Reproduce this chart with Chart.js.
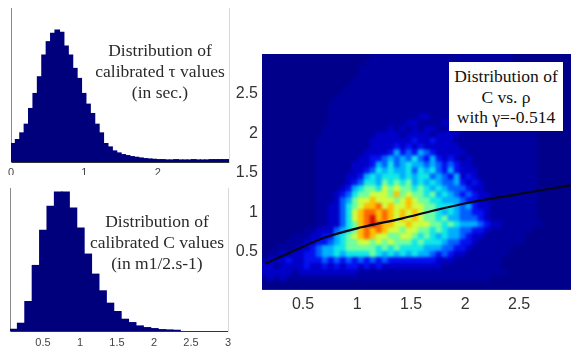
<!DOCTYPE html>
<html>
<head>
<meta charset="utf-8">
<script src="https://cdn.jsdelivr.net/npm/chart.js@4/dist/chart.umd.min.js"></script>
<style>
  html, body { margin: 0; padding: 0; background: #fff; }
  #page { position: relative; width: 571px; height: 351px; overflow: hidden; filter: blur(0.45px); }
  canvas { position: absolute; }
  .note { position: absolute; font-family: "Liberation Serif", serif; font-size: 17.5px; line-height: 21px; color: #2a2a2a; text-align: center; white-space: nowrap; }
  #noteHeat { left: 449px; top: 62px; width: 114px; height: 65px; padding-top: 4px; background: #fff; line-height: 20.5px; font-size: 17.5px; color: #111; }
</style>
</head>
<body>
<div id="page">
  <canvas id="tauChart" style="left:0;top:0"></canvas>
  <canvas id="cChart" style="left:0;top:175px"></canvas>
  <canvas id="heatChart" style="left:230px;top:30px"></canvas>
  <div class="note" style="left:80px;top:40px;width:160px">Distribution of<br>calibrated τ values<br>(in sec.)</div>
  <div class="note" style="left:77px;top:211px;width:160px">Distribution of<br>calibrated C values<br>(in m1/2.s-1)</div>
  <div class="note" id="noteHeat">Distribution of<br>C vs. ρ<br>with γ=-0.514</div>
</div>
<script>
const tauBins = [0.03,0.09,0.15,0.21,0.27,0.33,0.39,0.45,0.51,0.57,0.63,0.69,0.75,0.81,0.87,0.93,0.99,1.05,1.11,1.17,1.23,1.29,1.35,1.41,1.47,1.53,1.59,1.65,1.71,1.77,1.83,1.89,1.95,2.01,2.07,2.13,2.19,2.25,2.31,2.37,2.43,2.49,2.55,2.61,2.67,2.73,2.79,2.85,2.91,2.97];
const tauCounts = [55,67,87,113,160,205,255,320,360,385,395,388,347,320,280,250,205,173,145,113,87,55,45,33,27,22,19,16,14,12,10,9,8,7,7,6,6,7,6,6,6,7,6,6,6,7,7,7,7,7];

const cBins = [0.105,0.205,0.305,0.405,0.505,0.605,0.705,0.805,0.905,1.005,1.105,1.205,1.305,1.405,1.505,1.605,1.705,1.805,1.905,2.005,2.105,2.205,2.305];
const cCounts = [5,23,88,196,301,373,416,416,368,308,230,170,120,83,58,35,25,15,10,7,4,3,2];

const tauTicks = [0,1,2];
const cTicks = [0.5,1,1.5,2,2.5,3];
const heatTicks = [0.5,1,1.5,2,2.5];

// fitted curve
const curveRho = [0.148,0.426,0.70,1.04,1.41,1.72,2.03,2.49,2.98];
const curveC = [0.35,0.52,0.68,0.81,0.92,1.025,1.12,1.23,1.34];

// density levels, top row first, one hex digit per cell
const heatLevels = [
  "0000000000000000001111111111111111111111110000000000",
  "0000000000000000011111111111111111111111110000000000",
  "0000000000000000111111111111111111111111110000000000",
  "0000000000000000111111111111111111111111111000000000",
  "0000000000000001111111111111111111111111111000000000",
  "0000000000000011111111111111111111111111111100000000",
  "0000000000000111111111111111111111111111111100000000",
  "0000000000001111111111111111111111111111111100000000",
  "0000000000011111111111111111111111111111111110000000",
  "0000000000011111111111111111111121111111111110000000",
  "0000000000011111111111111122111111111111111110000000",
  "0000000000011111111111112211112111111111111110000000",
  "0000000000111111111112121212211212111111111111000000",
  "0000000000111111111222212222122221111111111111000000",
  "0000000001111111112222222322322211111111111111000000",
  "0000000001111111112222323232222221111111111111000000",
  "0000000001111111122223534354322222111111111111000000",
  "0000000001111111223345454643532321211111111111000000",
  "0000000001111112223546456554543432211111111111000000",
  "0000000001111112234656556465643532221111111111000000",
  "0000000001111122356566656566454352321111111111000000",
  "0000000001111123466576767565654453232111111111000000",
  "0000000001111235677687877676565444322111111111000000",
  "0000000001112346778887978776756543432211111111000000",
  "0000000001112457889888789877665554332211111111000000",
  "0000000001122467899a89889887766654532211111111000000",
  "00000000011224689aa9a98989877656544332111111110000",
  "0000000001122468 9ab9a98989877675544432111111110000".replace(" ", ""),
  "00000000011224679aba9988988877676555432211111110000",
  "000000011222456 79a9a98878877676554433211111110000".replace(" ", ""),
  "0000011122335678 9a9887788767656554322111111100000".replace(" ", ""),
  "0000111223345677887878777676665443321111111100000",
  "0011112234556677777676766665554433211111110000000",
  "0112122334556566667656565655434322111111100000000",
  "1222322333434343434343333333322211111111000000000",
  "2212222322323233232322222222221111111111000000000",
  "2222212222222222111111111111111111111111100000000",
  "1212111111111111111111111111111111111100000000000",
  "0000000000000000000000000000000000000000000000000000"
];
const heatPalette = ["#00008a","#00009e","#0000c8","#0410f0","#0060ff","#00b0ff","#10e8e8","#70ffa0","#d0ff40","#ffc000","#ff6800","#d81000"];

const barColor = "#00007d";

// flat lookup of the grid into scatter points
const heatPoints = [];
const heatColors = [];
heatLevels.forEach((row, j) => {
  for (let i = 0; i < row.length; i++) {
    heatPoints.push({ x: 0.148 + i * 0.0555, y: 2.96 - j * 0.0755 });
    heatColors.push(heatPalette[parseInt(row[i], 16)]);
  }
});

// keeps tick labels from eating into the plot area
function noLabelPad(s) {
  s.paddingLeft = s.paddingRight = s.paddingTop = s.paddingBottom = 0;
}

function histogram(id, width, height, bins, counts, ticks, xMin, xMax, yMax, pad, axisH, tickFont, tickPad) {
  const canvas = document.getElementById(id);
  canvas.width = width;
  canvas.height = height;
  return new Chart(canvas, {
    type: "bar",
    data: {
      datasets: [{
        data: bins.map((b, i) => ({ x: b, y: counts[i] })),
        backgroundColor: barColor,
        borderWidth: 0,
        inflateAmount: 0.6,
        barPercentage: 1,
        categoryPercentage: 1,
        grouped: false
      }]
    },
    options: {
      responsive: false,
      animation: false,
      layout: { padding: pad },
      plugins: { legend: { display: false }, tooltip: { enabled: false } },
      scales: {
        x: {
          type: "linear",
          offset: false,
          min: xMin,
          max: xMax,
          grid: { display: false, drawTicks: false },
          border: { color: "#333" },
          afterBuildTicks: s => { s.ticks = ticks.map(v => ({ value: v })); },
          afterFit: s => { s.height = axisH; noLabelPad(s); },
          ticks: {
            autoSkip: false, maxRotation: 0, padding: tickPad,
            color: "#444",
            font: { family: "Liberation Sans", size: tickFont },
            callback: v => String(v)
          }
        },
        y: {
          min: 0,
          max: yMax,
          grid: { display: false, drawTicks: false },
          border: { color: "#8a8a8a" },
          afterFit: s => { s.width = pad.yAxis; noLabelPad(s); },
          ticks: { display: false }
        },
        y2: {
          position: "right",
          min: 0,
          max: yMax,
          grid: { display: false, drawTicks: false },
          border: { color: "#d8d8d8" },
          afterFit: s => { s.width = 0; noLabelPad(s); },
          ticks: { display: false }
        }
      }
    }
  });
}

histogram("tauChart", 235, 175, tauBins, tauCounts, tauTicks, 0, 2.97, 461,
  { top: 8, right: 6, left: 0, bottom: 0, yAxis: 11 }, 13, 11, 4);
histogram("cChart", 235, 176, cBins, cCounts, cTicks, 0.054, 3, 428,
  { top: 13, right: 7, left: 0, bottom: 0, yAxis: 10 }, 20, 11, 5);

// softens the cell grid the way the scanned picture is soft
const softCells = {
  id: "softCells",
  beforeDatasetsDraw(chart) {
    const a = chart.chartArea;
    chart.ctx.save();
    chart.ctx.fillStyle = heatPalette[0];
    chart.ctx.fillRect(a.left, a.top, a.width, a.height);
    chart.ctx.restore();
  },
  afterDatasetDraw(chart, args) {
    if (args.index !== 1) return;
    const a = chart.chartArea;
    const ctx = chart.ctx;
    ctx.save();
    ctx.beginPath();
    ctx.rect(a.left, a.top, a.width, a.height);
    ctx.clip();
    ctx.filter = "blur(1.6px)";
    ctx.drawImage(chart.canvas, a.left, a.top, a.width, a.height, a.left, a.top, a.width, a.height);
    ctx.restore();
  }
};

const heatCanvas = document.getElementById("heatChart");
heatCanvas.width = 341;
heatCanvas.height = 290;
new Chart(heatCanvas, {
  type: "scatter",
  data: {
    datasets: [
      {
        data: curveRho.map((r, i) => ({ x: r, y: curveC[i] })),
        showLine: true,
        borderColor: "#06061e",
        borderWidth: 2.2,
        cubicInterpolationMode: "monotone",
        pointRadius: 0,
        clip: 0,
        order: 0
      },
      {
        data: heatPoints,
        pointStyle: "rect",
        pointRadius: 4.6,
        pointBorderWidth: 0,
        pointBackgroundColor: heatColors,
        clip: 0,
        order: 1
      }
    ]
  },
  options: {
    responsive: false,
    animation: false,
    layout: { autoPadding: false, padding: { top: 24, right: 0, left: 0, bottom: 0 } },
    plugins: { legend: { display: false }, tooltip: { enabled: false } },
    scales: {
      x: {
        min: 0.12,
        max: 2.98,
        grid: { display: false, drawTicks: false },
        border: { color: "#20206a" },
        afterBuildTicks: s => { s.ticks = heatTicks.map(v => ({ value: v })); },
        afterFit: s => { s.height = 31; noLabelPad(s); },
        ticks: {
          autoSkip: false, maxRotation: 0, padding: 6, color: "#333",
          font: { family: "Liberation Sans", size: 16 },
          callback: v => String(v)
        }
      },
      y: {
        min: 0.03,
        max: 3,
        grid: { display: false, drawTicks: false },
        border: { color: "#20206a" },
        afterBuildTicks: s => { s.ticks = heatTicks.map(v => ({ value: v })); },
        afterFit: s => { s.width = 32; noLabelPad(s); },
        ticks: {
          autoSkip: false, padding: 4, color: "#333",
          font: { family: "Liberation Sans", size: 16 },
          callback: v => String(v)
        }
      }
    }
  },
  plugins: [softCells]
});
</script>
</body>
</html>
